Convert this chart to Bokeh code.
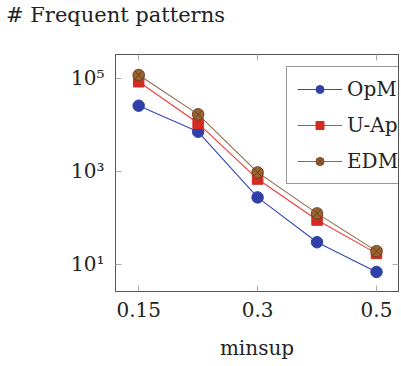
from bokeh.plotting import figure
from bokeh.models import LinearAxis, LogAxis, FixedTicker, Legend, LegendItem, Range1d, Div
from bokeh.layouts import column
from bokeh.embed import file_html
from bokeh.resources import INLINE

# ---- data ----
minsup = ["0.15", "0.2", "0.3", "0.4", "0.5"]
shown_ticks = [0, 2, 4]
opm = [25800, 7100, 276, 30, 6.9]
uap = [84500, 10800, 684, 90, 17.3]
edm = [117800, 16800, 950, 125, 19.3]
series_names = ["OpM", "U-Ap", "EDM"]
ytick_vals = [10, 1000, 100000]
ytick_labels = ["10\u00b9", "10\u00b3", "10\u2075"]
y_title = "# Frequent patterns"

x = list(range(len(minsup)))
FONT = "DejaVu Serif"
FS = "20px"

head = Div(text=y_title, width=401, height=30, margin=(0, 0, 0, 0),
           styles={"font-family": FONT, "font-size": "21px", "color": "#222222",
                   "line-height": "1", "padding-left": "6px", "padding-top": "5px",
                   "white-space": "nowrap", "box-sizing": "border-box"})

p = figure(width=401, height=336, y_axis_type="log",
           x_range=Range1d(-0.39, 4.37), y_range=Range1d(2.62, 3.25e5),
           output_backend="svg", toolbar_location=None,
           min_border_left=115, min_border_right=3,
           min_border_top=24, min_border_bottom=75, margin=(0, 0, 0, 0))

p.xgrid.visible = False
p.ygrid.visible = False
p.outline_line_color = "#555555"
p.outline_line_alpha = 1.0

xt = FixedTicker(ticks=shown_ticks)
yt = FixedTicker(ticks=ytick_vals)
xover = {i: minsup[i] for i in shown_ticks}
yover = {v: l for v, l in zip(ytick_vals, ytick_labels)}

for ax in p.xaxis:
    ax.ticker = xt
    ax.major_label_overrides = xover
    ax.axis_label = "minsup"
for ax in p.yaxis:
    ax.ticker = yt
    ax.major_label_overrides = yover

def style_axis(ax, labels=True):
    ax.axis_line_color = "#555555"
    ax.major_tick_in = 6
    ax.major_tick_out = 0
    ax.major_tick_line_color = "#aaaaaa"
    ax.minor_tick_line_color = None
    ax.major_label_text_font = FONT
    ax.major_label_text_font_size = FS if labels else "0px"
    ax.major_label_text_color = "#222222"
    ax.axis_label_text_font = FONT
    ax.axis_label_text_font_size = FS
    ax.axis_label_text_font_style = "normal"
    ax.axis_label_text_color = "#222222"

for ax in p.xaxis:
    style_axis(ax)
    ax.major_label_standoff = 10
    ax.axis_label_standoff = 16
for ax in p.yaxis:
    style_axis(ax)
    ax.major_label_standoff = 11

top = LinearAxis(ticker=xt, major_label_overrides={i: "" for i in shown_ticks})
style_axis(top, labels=False)
top.major_label_standoff = 0
p.add_layout(top, "above")
right = LogAxis(ticker=yt, major_label_overrides={v: "" for v in ytick_vals})
style_axis(right, labels=False)
right.major_label_standoff = 0
p.add_layout(right, "right")

l1 = p.line(x, opm, line_color="#3347b0", line_width=1.1)
m1 = p.scatter(x, opm, marker="circle", size=11.5, fill_color="#3040a8", line_color="#3040a8")
l2 = p.line(x, uap, line_color="#f03a3a", line_width=1.1)
m2 = p.scatter(x, uap, marker="square", size=10.5, fill_color="#d42a20", line_color="#d42a20")
l3 = p.line(x, edm, line_color="#8b6a4a", line_width=1.1)
m3 = p.scatter(x, edm, marker="circle_x", size=11.5, fill_color="#9a6430", line_color="#6a4020")

legend = Legend(items=[LegendItem(label=series_names[0], renderers=[l1, m1]),
                       LegendItem(label=series_names[1], renderers=[l2, m2]),
                       LegendItem(label=series_names[2], renderers=[l3, m3])],
                location=(171, 107))
legend.label_text_font = FONT
legend.label_text_font_size = FS
legend.label_text_color = "#222222"
legend.glyph_width = 45
legend.glyph_height = 20
legend.label_height = 20
legend.label_width = 30
legend.label_standoff = 5
legend.spacing = 12
legend.padding = 10
legend.margin = 0
legend.border_line_color = "#333333"
legend.background_fill_alpha = 1.0
p.add_layout(legend, "center")

layout = column(head, p, spacing=0, margin=(0, 0, 0, 0))
open("out.html", "w").write(file_html(layout, INLINE))
